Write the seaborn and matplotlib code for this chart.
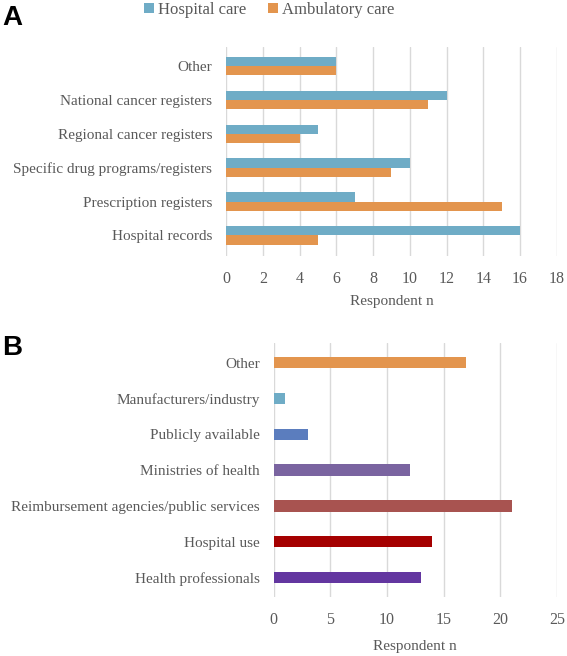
import matplotlib
matplotlib.use("Agg")
import matplotlib.pyplot as plt
import seaborn as sns
import pandas as pd
from matplotlib.patches import Patch

# Panel A data
cats_a = ["Other", "National cancer registers", "Regional cancer registers",
          "Specific drug programs/registers", "Prescription registers", "Hospital records"]
hospital_care = [6, 12, 5, 10, 7, 16]
ambulatory_care = [6, 11, 4, 9, 15, 5]
series_a = ["Hospital care", "Ambulatory care"]

# Panel B data
cats_b = ["Other", "Manufacturers/industry", "Publicly available", "Ministries of health",
          "Reimbursement agencies/public services", "Hospital use", "Health professionals"]
values_b = [17, 1, 3, 12, 21, 14, 13]

colors_a = ["#6FACC6", "#E3954E"]
colors_b = ["#E3954E", "#6FACC6", "#5B7DBE", "#7A64A0", "#A85350", "#A50000", "#6336A0"]

sns.set_theme(style="white")
plt.rcParams["font.family"] = ["Liberation Serif"]
txt = "#595959"
fs = 11

fig = plt.figure(figsize=(5.67, 6.56), dpi=100)
axA = fig.add_axes([0.3986, 0.61, 0.5834, 0.318])
axB = fig.add_axes([0.483, 0.09, 0.499, 0.387])

dfa = pd.DataFrame({
    "cat": cats_a * 2,
    "val": hospital_care + ambulatory_care,
    "series": [series_a[0]] * len(cats_a) + [series_a[1]] * len(cats_a),
})
sns.barplot(data=dfa, y="cat", x="val", hue="series", hue_order=series_a,
            palette=colors_a, saturation=1, orient="h", width=0.54, ax=axA, legend=False,
            edgecolor="none", linewidth=0)
axA.set_xlim(0, 18)
axA.set_xticks(range(0, 19, 2))
axA.set_ylim(len(cats_a) - 0.5 + 0.1, -0.5 - 0.05)

dfb = pd.DataFrame({"cat": cats_b, "val": values_b})
sns.barplot(data=dfb, y="cat", x="val", hue="cat", palette=colors_b, saturation=1,
            orient="h", width=0.32, ax=axB, legend=False, edgecolor="none", linewidth=0)
axB.set_xlim(0, 25)
axB.set_xticks(range(0, 26, 5))
axB.set_ylim(len(cats_b) - 0.5 + 0.05, -0.5 - 0.05)

for ax, lp in ((axA, 6), (axB, 8.5)):
    for s in ax.spines.values():
        s.set_visible(False)
    ax.grid(axis="x", color="#D9D9D9", linewidth=1.0)
    ax.grid(axis="y", visible=False)
    ax.set_axisbelow(True)
    ax.set_ylabel("")
    ax.set_xlabel("Respondent n", color=txt, fontsize=fs, labelpad=lp)
    ax.tick_params(axis="both", colors=txt, labelsize=fs, length=0)
    ax.tick_params(axis="x", pad=11, labelsize=11.5)
    ax.tick_params(axis="y", pad=10)

fig.text(0.004, 0.973, "A", fontsize=20, fontweight="bold", family="Liberation Sans",
         ha="left", va="center", color="black")
fig.text(0.004, 0.469, "B", fontsize=20, fontweight="bold", family="Liberation Sans",
         ha="left", va="center", color="black")

handles = [Patch(facecolor=c, edgecolor="none") for c in colors_a]
fig.legend(handles, series_a, loc="center", bbox_to_anchor=(0.475, 0.985), ncol=2,
           frameon=False, fontsize=12, labelcolor=txt, handlelength=0.6, handleheight=0.6,
           handletextpad=0.25, columnspacing=1.3)

fig.savefig("out.png", dpi=100)
